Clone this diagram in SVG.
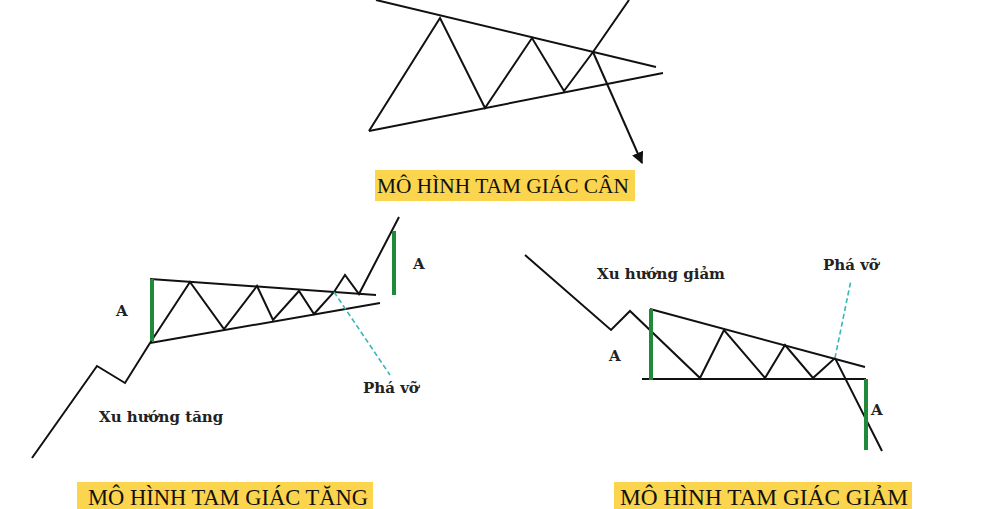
<svg xmlns="http://www.w3.org/2000/svg" width="989" height="509" viewBox="0 0 989 509">
<defs>
<style>
.k{fill:none;stroke:#111;stroke-width:2;stroke-linejoin:miter}
.g{stroke:#1f8a3a;stroke-width:4}
.d{stroke:#3bb5b8;stroke-width:1.6;stroke-dasharray:5,3}
.lb{font-family:"DejaVu Serif","Liberation Serif",serif;font-weight:bold;font-size:15px;fill:#222}
.tt{font-family:"Liberation Serif",serif;font-size:21px;fill:#111}
.tb{font-family:"Liberation Serif",serif;font-size:22.5px;fill:#111}
.bx{fill:#fbd54e}
</style>
<marker id="ah" viewBox="0 0 10 10" refX="9" refY="5" markerWidth="6" markerHeight="6" orient="auto"><path d="M0,0L10,5L0,10z" fill="#111"/></marker>
</defs>
<rect width="989" height="509" fill="#fff"/>
<g id="sym">
<path class="k" d="M376,0L656,67M369,131L663,73"/>
<path class="k" d="M369,131L440,18L485,108L532,38L564,91L593,52L629,0"/>
<path class="k" d="M593,52L642,163" marker-end="url(#ah)"/>
<rect class="bx" x="375" y="170" width="260" height="31"/>
<text class="tt" x="377" y="193" textLength="252" lengthAdjust="spacingAndGlyphs">MÔ HÌNH TAM GIÁC CÂN</text>
</g>
<g id="asc">
<path class="k" d="M32,458L97,366L125,383L150,343"/>
<path class="k" d="M150,279L376,295M150,343L380,303"/>
<path class="k" d="M150,343L190,282L224,329L257,286L273,320L299,291L314,314L334,292L345,275L359,294L399,217"/>
<path class="g" d="M152,279V341M394,231V295"/>
<path class="d" d="M334,292L390,375"/>
<text class="lb" x="116" y="316">A</text>
<text class="lb" x="413" y="269">A</text>
<text class="lb" x="363" y="393">Phá vỡ</text>
<text class="lb" x="99" y="422">Xu hướng tăng</text>
<rect class="bx" x="77" y="482" width="296" height="27"/>
<text class="tb" x="88" y="505" textLength="280" lengthAdjust="spacingAndGlyphs">MÔ HÌNH TAM GIÁC TĂNG</text>
</g>
<g id="desc">
<path class="k" d="M525,255L611,330L630,311L700,378L724,330L765,378L785,345L813,378L835,358L882,451"/>
<path class="k" d="M650,309L865,367M642,379L866,379"/>
<path class="g" d="M651,309V380M866,379V450"/>
<path class="d" d="M835,358L851,280"/>
<text class="lb" x="597" y="279">Xu hướng giảm</text>
<text class="lb" x="823" y="270">Phá vỡ</text>
<text class="lb" x="609" y="361">A</text>
<text class="lb" x="871" y="415">A</text>
<rect class="bx" x="614" y="482" width="298" height="27"/>
<text class="tb" x="620" y="505" textLength="288" lengthAdjust="spacingAndGlyphs">MÔ HÌNH TAM GIÁC GIẢM</text>
</g>
</svg>
